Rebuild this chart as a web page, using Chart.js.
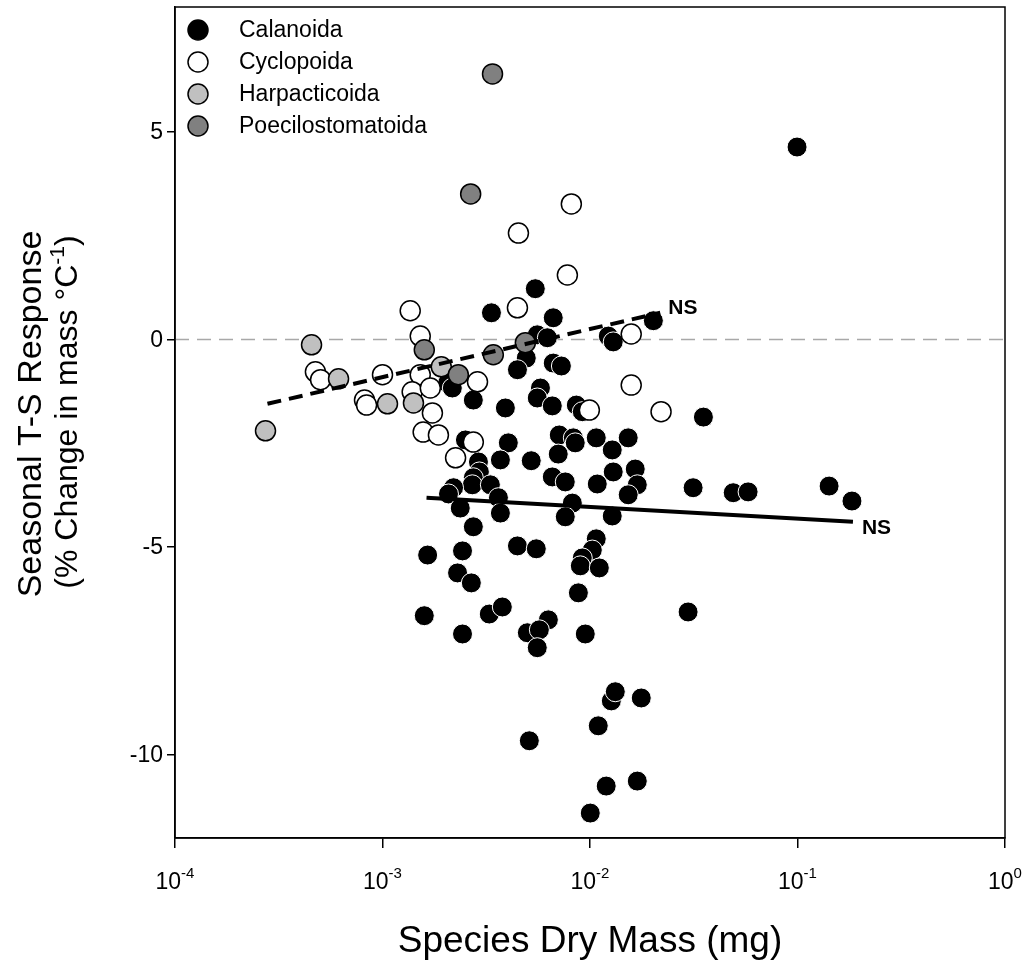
<!DOCTYPE html>
<html>
<head>
<meta charset="utf-8">
<script src="https://cdn.jsdelivr.net/npm/chart.js@4.4.0/dist/chart.umd.min.js"></script>
<style>
html, body { margin: 0; padding: 0; background: #fff; }
</style>
</head>
<body>
<canvas id="myChart" width="1027" height="967"></canvas>
<script>
// species dry mass (mg) and seasonal T-S response (% change in mass per degC)
var calX = [0.0995, 0.0202, 0.01225, 0.01294, 0.0352, 0.00545, 0.00335, 0.00665, 0.00557, 0.00623,
    0.00493, 0.00447, 0.00665, 0.00728, 0.00206, 0.00217, 0.00274, 0.00391, 0.00577, 0.00557,
    0.00658, 0.00859, 0.00918, 0.00711, 0.00831, 0.00849, 0.01072, 0.01528, 0.0128, 0.00404,
    0.00251, 0.00703, 0.0037, 0.00521, 0.0029, 0.00293, 0.00274, 0.00271, 0.00331, 0.0022,
    0.00208, 0.00362, 0.00237, 0.0037, 0.00274, 0.00658, 0.0076, 0.01084, 0.01294, 0.01652,
    0.0169, 0.01528, 0.00822, 0.0076, 0.0128, 0.01072, 0.01026, 0.00918, 0.00898, 0.01109,
    0.00879, 0.00949, 0.0314, 0.049, 0.0578, 0.142, 0.183, 0.0297, 0.00165, 0.00243,
    0.0023, 0.00268, 0.00447, 0.00551, 0.00159, 0.00243, 0.00327, 0.00378, 0.00499, 0.0063,
    0.0057, 0.00557, 0.0051, 0.01096, 0.01267, 0.01324, 0.01766, 0.01197, 0.0169, 0.01003]
var calY = [4.63, 0.45, 0.08, -0.06, -1.87, 1.22, 0.64, 0.52, 0.11, 0.04,
    -0.45, -0.73, -0.57, -0.64, -1.05, -1.17, -1.46, -1.65, -1.17, -1.41,
    -1.60, -1.58, -1.74, -2.30, -2.37, -2.49, -2.37, -2.37, -2.66, -2.49,
    -2.42, -2.76, -2.90, -2.92, -2.95, -3.19, -3.33, -3.50, -3.50, -3.57,
    -3.72, -3.81, -4.06, -4.18, -4.51, -3.31, -3.43, -3.48, -3.19, -3.12,
    -3.50, -3.74, -3.94, -4.27, -4.25, -4.80, -5.07, -5.26, -5.45, -5.50,
    -6.10, -7.09, -3.57, -3.69, -3.67, -3.53, -3.89, -6.56, -5.19, -5.09,
    -5.62, -5.86, -4.97, -5.04, -6.65, -7.09, -6.61, -6.44, -7.06, -6.75,
    -6.99, -7.42, -9.66, -9.30, -8.70, -8.48, -8.63, -10.75, -10.63, -11.40]

var cycX = [0.00813, 0.00452, 0.00778, 0.00447, 0.00136, 0.00152, 0.0158, 0.0158, 0.022, 0.00993,
    0.00287, 0.000475, 0.000503, 0.001, 0.000819, 0.000838, 0.00152, 0.00139, 0.0017, 0.00174,
    0.00157, 0.00186, 0.00225, 0.00274]
var cycY = [3.26, 2.56, 1.55, 0.76, 0.69, 0.08, 0.13, -1.10, -1.74, -1.70,
    -1.02, -0.78, -0.97, -0.85, -1.46, -1.58, -0.85, -1.26, -1.17, -1.77,
    -2.23, -2.30, -2.85, -2.47]

var harX = [0.000273, 0.000455, 0.000614, 0.001057, 0.00141, 0.00192]
var harY = [-2.20, -0.13, -0.95, -1.55, -1.53, -0.66]

var poeX = [0.00339, 0.00266, 0.00159, 0.00232, 0.00342, 0.00488]
var poeY = [6.39, 3.50, -0.25, -0.85, -0.37, -0.08]

// regression lines (both not significant)
var cycFitX = [0.000279, 0.0218]
var cycFitY = [-1.55, 0.64]
var calFitX = [0.00163, 0.185]
var calFitY = [-3.81, -4.39]

var xTicks = [0.0001, 0.001, 0.01, 0.1, 1]
var xTickExp = ['-4', '-3', '-2', '-1', '0']
var yTicks = [-10, -5, 0, 5]

var groupNames = ['Calanoida', 'Cyclopoida', 'Harpacticoida', 'Poecilostomatoida']
var groupFill = ['#000000', '#ffffff', '#c0c0c0', '#808080']
var groupEdge = ['#ffffff', '#000000', '#000000', '#000000']

var FONT = "Arial, 'Liberation Sans', sans-serif";

function pts(xs, ys) {
    var out = [];
    for (var i = 0; i < xs.length; i++) {
        out.push({ x: xs[i], y: ys[i] });
    }
    return out;
}

function group(i, xs, ys) {
    return {
        label: groupNames[i],
        data: pts(xs, ys),
        backgroundColor: groupFill[i],
        borderColor: groupEdge[i],
        borderWidth: i == 0 ? 1 : 1.5,
        pointRadius: 10,
        pointHoverRadius: 10,
        order: 5 - i
    };
}

var zeroLine = {
    id: 'zeroLine',
    beforeDatasetsDraw: function (chart) {
        var c = chart.ctx, a = chart.chartArea;
        var y0 = chart.scales.y.getPixelForValue(0);
        c.save();
        c.strokeStyle = '#a8a8a8';
        c.lineWidth = 1.5;
        c.setLineDash([14, 8]);
        c.beginPath();
        c.moveTo(a.left, y0);
        c.lineTo(a.right, y0);
        c.stroke();
        c.restore();
    }
};

var decorations = {
    id: 'decorations',
    afterDraw: function (chart) {
        var c = chart.ctx, a = chart.chartArea;
        var xs = chart.scales.x, ys = chart.scales.y;
        c.save();
        // frame
        c.strokeStyle = '#000';
        c.lineWidth = 1.5;
        c.strokeRect(a.left, a.top, a.right - a.left, a.bottom - a.top);

        c.fillStyle = '#000';
        // x tick labels with superscript
        c.textBaseline = 'alphabetic';
        c.textAlign = 'left';
        for (var i = 0; i < xTicks.length; i++) {
            var px = xs.getPixelForValue(xTicks[i]);
            c.font = '23px ' + FONT;
            var w1 = c.measureText('10').width;
            c.font = '15px ' + FONT;
            var w2 = c.measureText(xTickExp[i]).width;
            var start = px - (w1 + w2) / 2;
            c.font = '23px ' + FONT;
            c.fillText('10', start, 889);
            c.font = '15px ' + FONT;
            c.fillText(xTickExp[i], start + w1, 878);
        }
        // y tick labels
        c.font = '23px ' + FONT;
        c.textAlign = 'right';
        c.textBaseline = 'middle';
        for (var j = 0; j < yTicks.length; j++) {
            c.fillText(String(yTicks[j]), 163, ys.getPixelForValue(yTicks[j]) + 1);
        }
        // x title
        c.textAlign = 'center';
        c.textBaseline = 'alphabetic';
        c.font = '37px ' + FONT;
        c.fillText('Species Dry Mass (mg)', (a.left + a.right) / 2, 952);

        // y title, two lines
        c.save();
        c.translate(32, 414);
        c.rotate(-Math.PI / 2);
        c.font = '34px ' + FONT;
        c.textAlign = 'center';
        c.textBaseline = 'middle';
        c.fillText('Seasonal T-S Response', 0, 0);
        c.restore();

        c.save();
        c.translate(66, 412);
        c.rotate(-Math.PI / 2);
        c.textAlign = 'left';
        c.textBaseline = 'alphabetic';
        var p1 = '(% Change in mass \u00B0C', p2 = '-1', p3 = ')';
        c.font = '32px ' + FONT;
        var a1 = c.measureText(p1).width, a3 = c.measureText(p3).width;
        c.font = '21px ' + FONT;
        var a2 = c.measureText(p2).width;
        var sx = -(a1 + a2 + a3) / 2;
        c.font = '32px ' + FONT;
        c.fillText(p1, sx, 11);
        c.font = '21px ' + FONT;
        c.fillText(p2, sx + a1, -2);
        c.font = '32px ' + FONT;
        c.fillText(p3, sx + a1 + a2, 11);
        c.restore();

        // NS marks at the fit line ends
        c.font = 'bold 21px ' + FONT;
        c.textAlign = 'left';
        c.textBaseline = 'middle';
        c.fillText('NS', xs.getPixelForValue(cycFitX[1]) + 8, ys.getPixelForValue(cycFitY[1]) - 5);
        c.fillText('NS', xs.getPixelForValue(calFitX[1]) + 9, ys.getPixelForValue(calFitY[1]) + 6);

        // legend
        var ly = [30, 62, 94, 126];
        for (var k = 0; k < groupNames.length; k++) {
            c.beginPath();
            c.arc(198, ly[k], 10, 0, Math.PI * 2);
            c.fillStyle = groupFill[k];
            c.fill();
            c.lineWidth = 1.5;
            c.strokeStyle = '#000';
            c.stroke();
            c.fillStyle = '#000';
            c.font = '23px ' + FONT;
            c.textAlign = 'left';
            c.textBaseline = 'middle';
            c.fillText(groupNames[k], 239, ly[k] + 1);
        }
        c.restore();
    }
};

var ctx = document.getElementById('myChart');
var myChart = new Chart(ctx, {
    type: 'scatter',
    data: {
        datasets: [
            group(0, calX, calY),
            group(1, cycX, cycY),
            group(2, harX, harY),
            group(3, poeX, poeY),
            {
                type: 'line',
                data: pts(cycFitX, cycFitY),
                borderColor: '#000',
                borderWidth: 4,
                borderDash: [14, 8],
                pointRadius: 0,
                showLine: true,
                fill: false,
                order: 0
            },
            {
                type: 'line',
                data: pts(calFitX, calFitY),
                borderColor: '#000',
                borderWidth: 4,
                pointRadius: 0,
                showLine: true,
                fill: false,
                order: 0
            }
        ]
    },
    options: {
        responsive: false,
        devicePixelRatio: 1,
        animation: false,
        events: [],
        layout: { autoPadding: false, padding: { left: 0, right: 22, top: 7, bottom: 0 } },
        plugins: {
            legend: { display: false },
            tooltip: { enabled: false }
        },
        scales: {
            x: {
                type: 'logarithmic',
                min: 0.0001,
                max: 1,
                afterBuildTicks: function (scale) {
                    scale.ticks = xTicks.map(function (v) { return { value: v }; });
                },
                afterFit: function (scale) {
                    scale.height = 129;
                    scale.paddingLeft = 0;
                    scale.paddingRight = 0;
                },
                ticks: { display: false },
                grid: { display: true, drawOnChartArea: false, drawTicks: true, tickLength: 10, color: '#000', lineWidth: 1.5 },
                border: { display: true, color: '#000', width: 1.5 }
            },
            y: {
                type: 'linear',
                min: -12,
                max: 8,
                afterBuildTicks: function (scale) {
                    scale.ticks = yTicks.map(function (v) { return { value: v }; });
                },
                afterFit: function (scale) {
                    scale.width = 175;
                    scale.paddingTop = 0;
                    scale.paddingBottom = 0;
                },
                ticks: { display: false },
                grid: { display: true, drawOnChartArea: false, drawTicks: true, tickLength: 8, color: '#000', lineWidth: 1.5 },
                border: { display: true, color: '#000', width: 1.5 }
            }
        }
    },
    plugins: [zeroLine, decorations]
});
</script>
</body>
</html>
